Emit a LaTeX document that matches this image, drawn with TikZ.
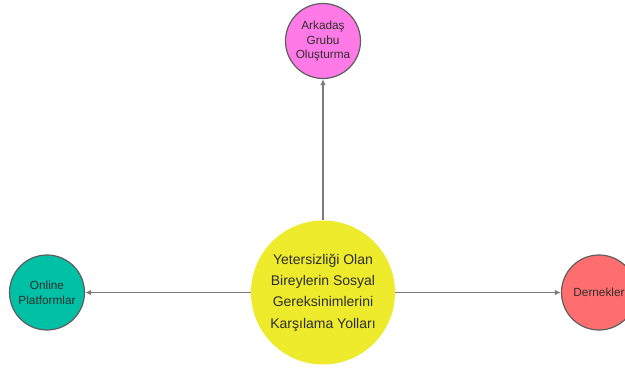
\documentclass[tikz,border=0pt]{standalone}
\usepackage{fontspec}
\setmainfont{Liberation Sans}
\usetikzlibrary{arrows.meta}
\definecolor{hubfill}{HTML}{EEEA2C}
\definecolor{pinkfill}{HTML}{FF7AE6}
\definecolor{tealfill}{HTML}{00C1A6}
\definecolor{coralfill}{HTML}{FF6E6E}
\definecolor{ringgray}{HTML}{5E5E5E}
\definecolor{linkgray}{HTML}{7A7A7A}
\definecolor{txtgray}{HTML}{2E2E2E}
\begin{document}
\begin{tikzpicture}[x=1pt,y=1pt,
  hub/.style={circle, fill=hubfill, minimum size=144pt, inner sep=0pt,
    align=center, text=txtgray, font=\fontsize{14}{21.3}\selectfont},
  leaf/.style={circle, draw=ringgray, line width=1.2pt, minimum size=75pt,
    inner sep=0pt, align=center, text=txtgray, font=\fontsize{11.8}{14.8}\selectfont},
  link/.style={draw=linkgray, line width=1.3pt, -{Latex[length=6pt,width=5.5pt]}}]
\useasboundingbox (0,0) rectangle (625,368);
\node[hub] (hub) at (323,75.5) {Yetersizliği Olan\\Bireylerin Sosyal\\Gereksinimlerini\\Karşılama Yolları};
\node[leaf, fill=pinkfill] (friends) at (323,327) {Arkadaş\\Grubu\\Oluşturma};
\node[leaf, fill=tealfill] (online) at (47,75.5) {Online\\Platformlar};
\node[leaf, fill=coralfill] (assoc) at (599,75.5) {Dernekler};
\draw[link] (hub) -- (friends);
\draw[link] (hub) -- (online);
\draw[link] (hub) -- (assoc);
\end{tikzpicture}
\end{document}
